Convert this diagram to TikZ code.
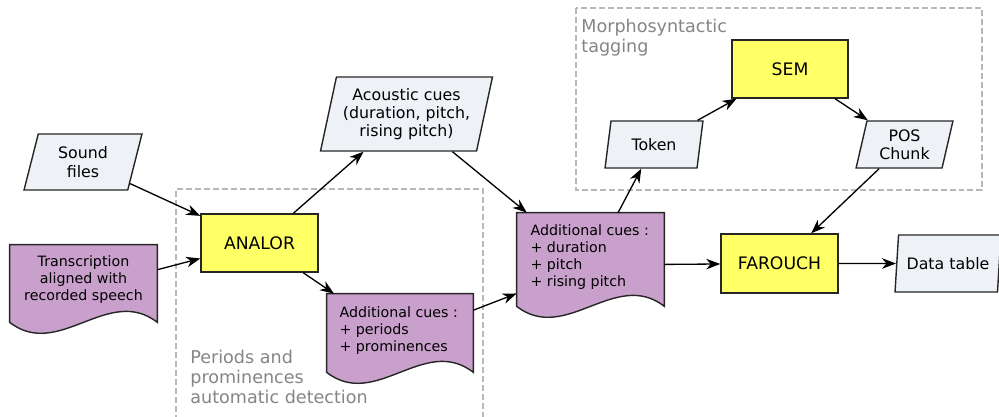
\documentclass[tikz,border=0pt]{standalone}
\usepackage{fontspec}
\setmainfont{DejaVu Sans}
\usetikzlibrary{shapes.geometric,arrows.meta}

\definecolor{procyellow}{HTML}{FFFF66}
\definecolor{docpurple}{HTML}{C9A0CC}
\definecolor{iofill}{HTML}{EEF2F7}
\definecolor{groupgray}{HTML}{B8B8B8}
\definecolor{labelgray}{HTML}{858585}

\tikzset{
  process/.style={draw=black!85, line width=0.8pt, fill=procyellow, minimum width=2.34cm, minimum height=1.16cm, inner sep=1pt, font=\fontsize{9.8}{11.8}\selectfont},
  iobox/.style={trapezium, trapezium stretches=true, trapezium left angle=76, trapezium right angle=104, draw=black!85, line width=0.8pt, fill=iofill, inner sep=1pt, align=center, font=\fontsize{9}{10.4}\selectfont},
  docbox/.style={rectangle, inner sep=0pt},
  docline/.style={draw=black!85, line width=0.8pt, fill=docpurple},
  doctext/.style={inner sep=0pt, font=\fontsize{8.1}{9.7}\selectfont},
  group/.style={draw=groupgray, line width=0.75pt, dash pattern=on 3.4pt off 1.7pt},
  grouplabel/.style={text=labelgray, inner sep=0pt, anchor=north west, align=left, font=\fontsize{10}{11.2}\selectfont},
  flow/.style={-{Stealth[length=8pt,width=6pt,inset=2.5pt]}, line width=0.75pt},
}

\newcommand{\docshape}[2]{%
  \draw[docline] ([yshift=0.22cm]#1.south west) -- (#1.north west) -- (#1.north east)
    -- ([yshift=0.22cm]#1.south east)
    .. controls +(-#2,-38) and +(#2,38) .. ([yshift=0.22cm]#1.south west) -- cycle;}

\begin{document}
\begin{tikzpicture}[x=0.02cm, y=-0.02cm]
    \useasboundingbox (0,0) rectangle (999,416);

    \draw[group] (576,8) rectangle (982,190);
    \draw[group] (176,430) |- (483,189) -- (483,430);
    \node[grouplabel] (morpho-label) at (581,19) {Morphosyntactic\\tagging};
    \node[grouplabel] (periods-label) at (190,350) {Periods and\\prominences\\automatic detection};

    \node[iobox, minimum width=2.36cm, minimum height=1.12cm] (sound) at (83,162) {Sound\\ files};
    \node[iobox, minimum width=3.46cm, minimum height=1.48cm, trapezium left angle=75, trapezium right angle=105] (acoustic) at (406.5,114) {Acoustic cues\\(duration, pitch,\\rising pitch)};
    \node[iobox, minimum width=1.96cm, minimum height=0.94cm, trapezium left angle=78, trapezium right angle=102] (token) at (654,144.5) {Token};
    \node[iobox, minimum width=1.94cm, minimum height=0.94cm, trapezium left angle=77, trapezium right angle=103] (pos) at (904.5,144.5) {POS\\Chunk};
    \node[iobox, minimum width=2.12cm, minimum height=1.14cm, trapezium left angle=79, trapezium right angle=101] (data) at (948,263.5) {Data table};

    \node[process] (analor) at (259.5,243) {ANALOR};
    \node[process, minimum width=2.32cm] (sem) at (790,69) {SEM};
    \node[process, minimum height=1.18cm] (farouch) at (779.5,263.5) {FAROUCH};

    \node[docbox, minimum width=2.94cm, minimum height=1.76cm] (trans) at (83.5,289) {};
    \docshape{trans}{49}
    \node[doctext, align=center] (trans-text) at ([yshift=0.19cm]trans.center) {Transcription\\aligned with\\recorded speech};

    \node[docbox, minimum width=2.92cm, minimum height=1.78cm] (addcue2) at (400,338.5) {};
    \docshape{addcue2}{49}
    \node[doctext, align=left, anchor=north west] (addcue2-text) at ([xshift=0.25cm,yshift=-0.25cm]addcue2.north west) {Additional cues :\\+ periods\\+ prominences};

    \node[docbox, minimum width=2.94cm, minimum height=2.08cm] (addcue3) at (590.5,265) {};
    \docshape{addcue3}{49}
    \node[doctext, align=left, anchor=north west] (addcue3-text) at ([xshift=0.27cm,yshift=-0.23cm]addcue3.north west) {Additional cues :\\+ duration\\+ pitch\\+ rising pitch};

    \draw[flow] (sound) -- (analor);
    \draw[flow] (trans) -- (analor);
    \draw[flow] (analor) -- (acoustic);
    \draw[flow] (analor) -- (addcue2);
    \draw[flow] (acoustic) -- (addcue3);
    \draw[flow] (addcue2) -- (addcue3);
    \draw[flow] (addcue3) -- (token);
    \draw[flow] (token) -- (sem);
    \draw[flow] (sem) -- (pos);
    \draw[flow] (pos) -- (farouch);
    \draw[flow] (addcue3) -- (farouch);
    \draw[flow] (farouch) -- (data);
\end{tikzpicture}
\end{document}
